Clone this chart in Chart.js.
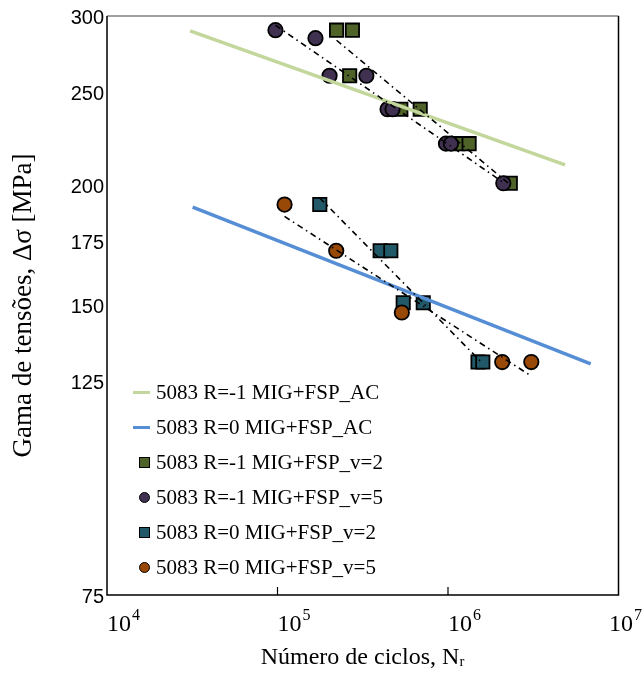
<!DOCTYPE html>
<html><head><meta charset="utf-8">
<script src="https://cdn.jsdelivr.net/npm/chart.js@4/dist/chart.umd.min.js"></script>
<style>
html,body{margin:0;padding:0;background:#fff;}
#wrap{position:relative;width:644px;height:684px;}
#c{display:block;}
#legend{position:absolute;left:133px;top:375px;font-family:'Liberation Serif','Times New Roman',serif;font-size:21px;color:#000;}
.item{height:35px;display:flex;align-items:center;white-space:nowrap;}
.sym{width:17px;height:14px;display:flex;align-items:center;margin-right:6px;}
.sym.mk{justify-content:flex-end;}
.ln{width:17px;height:3px;}
.sq{width:9px;height:9px;border:1.5px solid #000;}
.ci{width:9px;height:9px;border:1.5px solid #000;border-radius:50%;}
</style></head>
<body>
<div id="wrap"><canvas id="c" width="644" height="684"></canvas><div id="legend"></div></div>
<script>
// ---- data ----
const seriesNames = [
  '5083 R=-1 MIG+FSP_AC',
  '5083 R=0 MIG+FSP_AC',
  '5083 R=-1 MIG+FSP_v=2',
  '5083 R=-1 MIG+FSP_v=5',
  '5083 R=0 MIG+FSP_v=2',
  '5083 R=0 MIG+FSP_v=5'
];
// design curves (AC)
const acR1_N = [3.07e4, 4.86e6];
const acR1_S = [289.5, 210];
const acR0_N = [3.18e4, 6.87e6];
const acR0_S = [189.8, 130.4];
// experimental series
const r1v2_N = [2.22e5, 2.75e5, 2.65e5, 5.29e5, 6.87e5, 1.14e6, 1.33e6, 2.32e6];
const r1v2_S = [290, 290, 260, 240, 240, 221, 221, 201];
const r1v5_N = [9.73e4, 1.67e5, 2.02e5, 3.32e5, 4.42e5, 4.73e5, 9.73e5, 1.04e6, 2.11e6];
const r1v5_S = [290, 284.5, 260, 260, 240, 240, 221, 221, 201];
const r0v2_N = [1.77e5, 4.0e5, 4.62e5, 5.46e5, 7.16e5, 1.50e6, 1.60e6];
const r0v2_S = [191, 171, 171, 151, 151, 131, 131];
const r0v5_N = [1.10e5, 2.21e5, 5.36e5, 2.08e6, 3.08e6];
const r0v5_S = [191, 171, 147.5, 131, 131];
// ticks
const xTickValues = [1e4, 1e5, 1e6, 1e7];
const xTickBase = '10';
const xTickExponents = ['4', '5', '6', '7'];
const yTickValues = [75, 125, 150, 175, 200, 250, 300];

const colors = ['#c3d69b', '#558ed5', '#4f6228', '#403151', '#215968', '#984807'];
const kinds = ['line', 'line', 'sq', 'ci', 'sq', 'ci'];

function pts(xs, ys){ return xs.map((x,i)=>({x:x, y:ys[i]})); }
function powerFit(xs, ys){
  const lx = xs.map(Math.log), ly = ys.map(Math.log);
  const n = xs.length;
  const mx = lx.reduce((a,b)=>a+b,0)/n, my = ly.reduce((a,b)=>a+b,0)/n;
  let sxy=0, sxx=0;
  for(let i=0;i<n;i++){ sxy += (lx[i]-mx)*(ly[i]-my); sxx += (lx[i]-mx)*(lx[i]-mx); }
  const b = sxy/sxx, a = my - b*mx;
  const x0 = Math.min(...xs), x1 = Math.max(...xs);
  return [{x:x0, y:Math.exp(a+b*Math.log(x0))}, {x:x1, y:Math.exp(a+b*Math.log(x1))}];
}

const lineDs = (data, color) => ({data, showLine:true, borderColor:color, borderWidth:3.5, pointRadius:0, fill:false, order:1});
const fitDs = (data) => ({data, showLine:true, borderColor:'#000', borderWidth:1.6, borderDash:[6,4,1.5,4], pointRadius:0, fill:false, order:0});
const markDs = (data, color, style, r, ord) => ({data, showLine:false, pointStyle:style, pointRadius:r, pointHoverRadius:r, backgroundColor:color, borderColor:'#000', pointBorderWidth:1.8, borderWidth:1.8, order:ord});

const datasets = [
  lineDs(pts(acR1_N, acR1_S), colors[0]),
  lineDs(pts(acR0_N, acR0_S), colors[1]),
  markDs(pts(r1v2_N, r1v2_S), colors[2], 'rect', 9.4, 5),
  markDs(pts(r1v5_N, r1v5_S), colors[3], 'circle', 7.2, 4),
  markDs(pts(r0v2_N, r0v2_S), colors[4], 'rect', 9.4, 3),
  markDs(pts(r0v5_N, r0v5_S), colors[5], 'circle', 7.2, 2),
  fitDs(powerFit(r1v2_N, r1v2_S)),
  fitDs(powerFit(r1v5_N, r1v5_S)),
  fitDs(powerFit(r0v2_N, r0v2_S)),
  fitDs(powerFit(r0v5_N, r0v5_S))
];

const frame = {
  id:'frame',
  afterDatasetsDraw(chart){
    const {ctx, chartArea:a, scales} = chart;
    ctx.save();
    ctx.lineWidth = 1.5;
    ctx.strokeStyle = '#808080';
    ctx.beginPath(); ctx.moveTo(a.left, a.top); ctx.lineTo(a.right, a.top); ctx.stroke();
    ctx.strokeStyle = '#000';
    ctx.beginPath();
    ctx.moveTo(a.right, a.top); ctx.lineTo(a.right, a.bottom); ctx.lineTo(a.left, a.bottom); ctx.lineTo(a.left, a.top);
    ctx.stroke();
    ctx.lineWidth = 1.2;
    xTickValues.slice(1, -1).forEach(v => {
      const px = scales.x.getPixelForValue(v);
      ctx.beginPath(); ctx.moveTo(px, a.bottom); ctx.lineTo(px, a.bottom - 8); ctx.stroke();
    });
    // x tick labels: 10 with superscript exponent
    const W = chart.width;
    ctx.fillStyle = '#000';
    ctx.textBaseline = 'alphabetic';
    ctx.textAlign = 'left';
    xTickValues.forEach((v, i) => {
      ctx.font = "24px 'Liberation Serif', serif";
      const wb = ctx.measureText(xTickBase).width;
      ctx.font = "16px 'Liberation Serif', serif";
      const we = ctx.measureText(xTickExponents[i]).width;
      let x = scales.x.getPixelForValue(v);
      x = Math.min(x, W - wb - we - 3);
      const yb = a.bottom + 36;
      ctx.font = "24px 'Liberation Serif', serif";
      ctx.fillText(xTickBase, x, yb);
      ctx.font = "16px 'Liberation Serif', serif";
      ctx.fillText(xTickExponents[i], x + wb + 1, yb - 11);
    });
    ctx.restore();
  }
};

new Chart(document.getElementById('c'), {
  type:'scatter',
  data:{datasets},
  options:{
    responsive:false, animation:false, devicePixelRatio:1,
    layout:{padding:{left:0, right:25.5, top:16, bottom:0}},
    plugins:{legend:{display:false}, tooltip:{enabled:false}},
    scales:{
      x:{
        type:'logarithmic', min:1e4, max:1e7,
        afterBuildTicks: s => { s.ticks = xTickValues.map(v=>({value:v})); },
        afterFit: s => { s.height = 89; },
        grid:{display:false, drawTicks:false}, border:{display:false},
        ticks:{display:false},
        title:{display:true, text:'Número de ciclos, Nᵣ', color:'#000', padding:{top:0, bottom:12}, font:{family:"'Liberation Serif', serif", size:24}}
      },
      y:{
        type:'logarithmic', min:75, max:300,
        afterBuildTicks: s => { s.ticks = yTickValues.map(v=>({value:v})); },
        afterFit: s => { s.width = 107; },
        grid:{display:false, drawTicks:false}, border:{display:false},
        ticks:{callback:(v)=>String(v), color:'#000', padding:3, labelOffset:2, font:{family:"'Liberation Sans', Arial, sans-serif", size:20}},
        title:{display:true, text:'Gama de tensões, Δσ [MPa]', color:'#000', padding:{top:8, bottom:0}, font:{family:"'Liberation Serif', serif", size:27}}
      }
    }
  },
  plugins:[frame]
});

// HTML legend
const leg = document.getElementById('legend');
seriesNames.forEach((name, i) => {
  const it = document.createElement('div'); it.className = 'item';
  const sym = document.createElement('div');
  sym.className = 'sym' + (kinds[i]==='line' ? '' : ' mk');
  const m = document.createElement('div');
  m.className = kinds[i]==='line' ? 'ln' : kinds[i];
  m.style.background = colors[i];
  sym.appendChild(m);
  const t = document.createElement('span'); t.textContent = name;
  it.appendChild(sym); it.appendChild(t);
  leg.appendChild(it);
});
</script>
</body></html>
